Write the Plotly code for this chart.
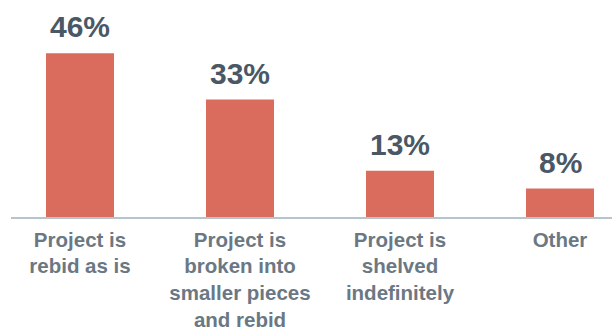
import plotly.graph_objects as go

categories = [
    "Project is<br>rebid as is",
    "Project is<br>broken into<br>smaller pieces<br>and rebid",
    "Project is<br>shelved<br>indefinitely",
    "Other",
]
shares = [46, 33, 13, 8]

bar_color = "#D96C5D"
value_color = "#4A5866"
label_color = "#6B7883"
font_family = "Liberation Sans, Arial, sans-serif"

fig = go.Figure(
    go.Bar(
        x=list(range(len(categories))),
        y=shares,
        width=0.425,
        marker=dict(color=bar_color, line=dict(width=0)),
        hoverinfo="skip",
    )
)

# value labels above each bar
for i, v in enumerate(shares):
    fig.add_annotation(
        x=i, y=v, text=f"{v}%", showarrow=False,
        yanchor="bottom", yshift=8,
        font=dict(family=font_family, size=30, color=value_color, weight="bold"),
    )

fig.update_layout(
    width=614, height=331,
    margin=dict(l=11, r=2, t=39, b=114),
    paper_bgcolor="white", plot_bgcolor="white",
    showlegend=False,
    font=dict(family=font_family),
    xaxis=dict(
        tickmode="array",
        tickvals=list(range(len(categories))),
        ticktext=categories,
        range=[-0.43125, 3.325],
        automargin=False,
        showgrid=False, zeroline=False,
        showline=True, linecolor="#B8C4CC", linewidth=2,
        ticks="", tickfont=dict(size=20.5, color=label_color, weight="bold"),
        ticklabelstandoff=3,
    ),
    yaxis=dict(
        range=[0, 50], visible=False, showgrid=False, zeroline=False,
    ),
)

fig.write_html("out.html")
